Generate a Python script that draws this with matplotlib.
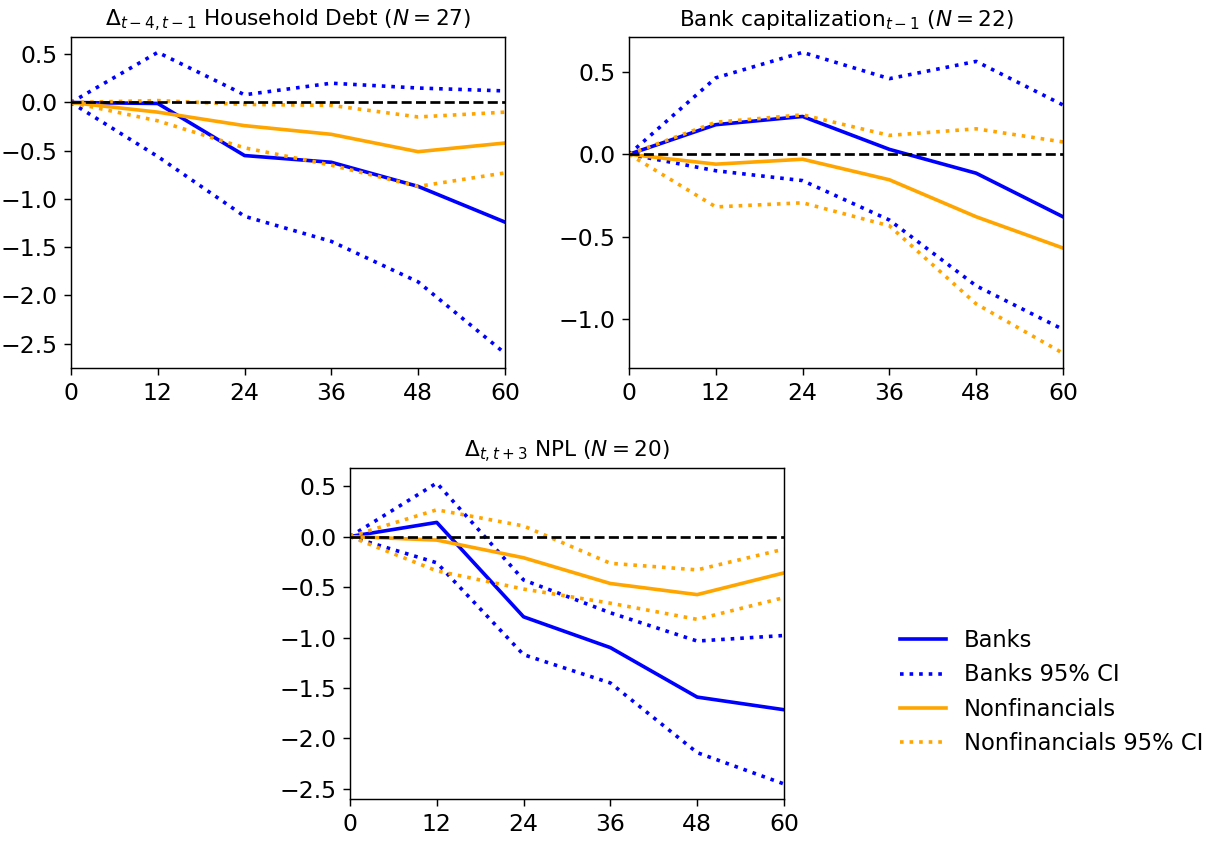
import numpy as np
import matplotlib
matplotlib.use("Agg")
import matplotlib.pyplot as plt

# horizons (months)
h = [0, 12, 24, 36, 48, 60]

# Panel 1: household debt
hh_banks = [0, -0.01, -0.55, -0.62, -0.87, -1.24]
hh_banks_hi = [0, 0.52, 0.08, 0.20, 0.15, 0.12]
hh_banks_lo = [0, -0.56, -1.18, -1.44, -1.86, -2.60]
hh_nonfin = [0, -0.10, -0.24, -0.33, -0.51, -0.42]
hh_nonfin_hi = [0, 0.02, -0.02, -0.03, -0.15, -0.10]
hh_nonfin_lo = [0, -0.19, -0.47, -0.65, -0.87, -0.73]

# Panel 2: bank capitalization
cap_banks = [0, 0.18, 0.23, 0.03, -0.115, -0.38]
cap_banks_hi = [0, 0.465, 0.62, 0.46, 0.565, 0.30]
cap_banks_lo = [0, -0.10, -0.16, -0.40, -0.80, -1.065]
cap_nonfin = [0, -0.06, -0.03, -0.155, -0.38, -0.57]
cap_nonfin_hi = [0, 0.195, 0.24, 0.115, 0.155, 0.075]
cap_nonfin_lo = [0, -0.32, -0.295, -0.435, -0.91, -1.21]

# Panel 3: NPL
npl_banks = [0, 0.14, -0.795, -1.10, -1.59, -1.715]
npl_banks_hi = [0, 0.53, -0.43, -0.755, -1.035, -0.98]
npl_banks_lo = [0, -0.26, -1.17, -1.45, -2.14, -2.45]
npl_nonfin = [0, -0.035, -0.21, -0.465, -0.575, -0.36]
npl_nonfin_hi = [0, 0.265, 0.105, -0.265, -0.33, -0.125]
npl_nonfin_lo = [0, -0.34, -0.52, -0.66, -0.82, -0.605]

titles = [r"$\Delta_{t-4,t-1}$ Household Debt ($N=27$)",
          r"Bank capitalization$_{t-1}$ ($N=22$)",
          r"$\Delta_{t,t+3}$ NPL ($N=20$)"]

panels = [
    (hh_banks, hh_banks_hi, hh_banks_lo, hh_nonfin, hh_nonfin_hi, hh_nonfin_lo),
    (cap_banks, cap_banks_hi, cap_banks_lo, cap_nonfin, cap_nonfin_hi, cap_nonfin_lo),
    (npl_banks, npl_banks_hi, npl_banks_lo, npl_nonfin, npl_nonfin_hi, npl_nonfin_lo),
]

dpi = 130
fig = plt.figure(figsize=(1219 / dpi, 842 / dpi), dpi=dpi)

positions = [
    [0.0582, 0.5626, 0.356, 0.3931],
    [0.5160, 0.5626, 0.356, 0.3931],
    [0.2871, 0.0511, 0.356, 0.3931],
]

for pos, title, data in zip(positions, titles, panels):
    b, b_hi, b_lo, n, n_hi, n_lo = data
    ax = fig.add_axes(pos)
    ax.plot(h, b, color="blue", lw=2, label="Banks")
    ax.plot(h, b_hi, color="blue", lw=2, ls=":", label="Banks 95% CI")
    ax.plot(h, b_lo, color="blue", lw=2, ls=":")
    ax.plot(h, n, color="orange", lw=2, label="Nonfinancials")
    ax.plot(h, n_hi, color="orange", lw=2, ls=":", label="Nonfinancials 95% CI")
    ax.plot(h, n_lo, color="orange", lw=2, ls=":")
    ax.axhline(0, color="black", ls="--", lw=1.5)
    ax.set_xlim(0, 60)
    ax.set_xticks(h)
    ax.yaxis.set_major_locator(plt.MultipleLocator(0.5))
    ax.tick_params(labelsize=13, length=4)
    ax.set_title(title, fontsize=12)
    handles, labels = ax.get_legend_handles_labels()

fig.legend(handles, labels, loc="center left", bbox_to_anchor=(0.722, 0.178),
           frameon=False, fontsize=12.5)

fig.savefig("out.png", dpi=dpi)
